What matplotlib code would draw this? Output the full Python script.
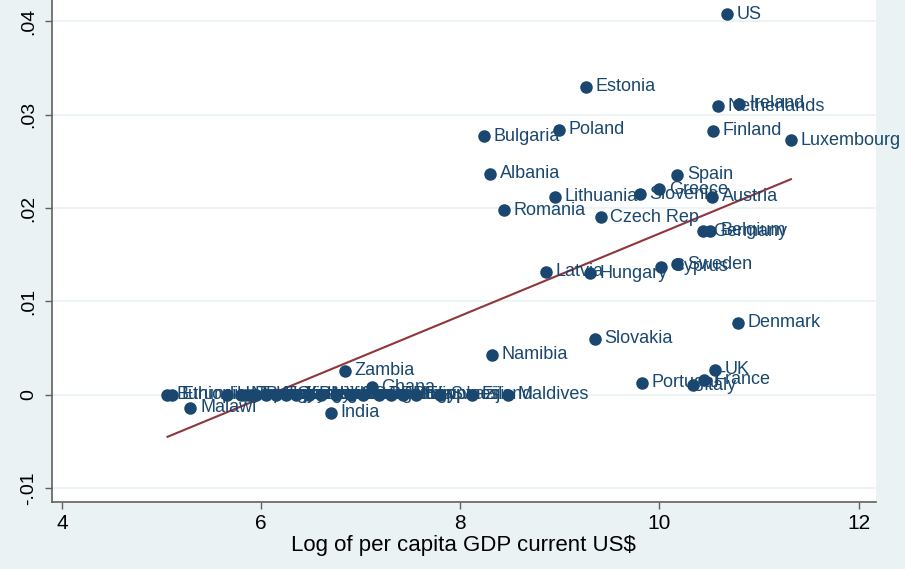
import matplotlib
matplotlib.use("Agg")
import matplotlib.pyplot as plt

# log per capita GDP vs growth
countries = [
    "US", "Estonia", "Ireland", "Netherlands", "Poland", "Finland", "Bulgaria",
    "Luxembourg", "Albania", "Spain", "Greece", "Slovenia", "Lithuania", "Austria",
    "Romania", "Czech Rep", "Germany", "Belgium", "Latvia", "Hungary", "Cyprus",
    "Sweden", "Denmark", "Slovakia", "Namibia", "Zambia", "Ghana", "UK", "France",
    "Portugal", "Italy", "Malawi", "India",
    "Burundi", "Ethiopia", "Uganda", "Nepal", "Rwanda", "Tanzania", "Bangladesh",
    "Kenya", "Tajikistan", "Cambodia", "Kyrgyzstan", "Pakistan", "Nigeria",
    "Vietnam", "Senegal", "Cameroon", "Sudan", "Bolivia", "Philippines", "Egypt",
    "Swaziland", "Fiji", "Maldives",
]
log_gdp = [
    10.68, 9.26, 10.80, 10.59, 8.99, 10.54, 8.24,
    11.32, 8.30, 10.18, 10.00, 9.80, 8.95, 10.53,
    8.44, 9.41, 10.44, 10.51, 8.86, 9.30, 10.02,
    10.18, 10.79, 9.35, 8.32, 6.84, 7.11, 10.56, 10.45,
    9.82, 10.34, 5.29, 6.70,
    5.05, 5.10, 5.66, 5.80, 5.84, 5.88, 5.95,
    6.05, 6.15, 6.25, 6.35, 6.48, 6.60,
    6.75, 6.90, 7.02, 7.18, 7.30, 7.42, 7.55,
    7.80, 8.12, 8.48,
]
growth = [
    0.0408, 0.0330, 0.0312, 0.0309, 0.0284, 0.0283, 0.0277,
    0.0273, 0.0237, 0.0236, 0.0220, 0.0215, 0.0212, 0.0212,
    0.0198, 0.0190, 0.0175, 0.0176, 0.0132, 0.0130, 0.0137,
    0.0140, 0.0077, 0.0060, 0.0043, 0.0026, 0.0008, 0.0027, 0.0016,
    0.0013, 0.0010, -0.0014, -0.0019,
    0.0, 0.0, 0.0, 0.0, 0.0, 0.0, 0.0,
    0.0, 0.0, 0.0, 0.0, 0.0, 0.0,
    0.0, 0.0, 0.0, 0.0, 0.0, 0.0, 0.0,
    0.0, 0.0, 0.0,
]

# fitted line end points
fit_x = [5.06, 11.32]
fit_y = [-0.0045, 0.0231]

x_ticks = [4, 6, 8, 10, 12]
y_ticks = [-0.01, 0.0, 0.01, 0.02, 0.03, 0.04]
y_tick_labels = ["-.01", "0", ".01", ".02", ".03", ".04"]

BG = "#eaf2f3"
NAVY = "#1a476f"
MAROON = "#90353b"
AXIS = "#606060"

plt.rcParams["font.family"] = ["Liberation Sans", "DejaVu Sans"]

fig = plt.figure(figsize=(9.05, 5.69), dpi=100, facecolor=BG)
ax = fig.add_axes([0.0575, 0.118, 0.910, 0.882])
ax.set_facecolor("white")

ax.set_xlim(3.90, 12.17)
ax.set_ylim(-0.01147, 0.0423)

for yt in y_ticks:
    ax.axhline(yt, color=BG, lw=1.2, zorder=0)

ax.plot(log_gdp, growth, "o", color=NAVY, ms=8, mec=NAVY, zorder=3)
for name, xv, yv in zip(countries, log_gdp, growth):
    ax.annotate(name, (xv, yv), xytext=(7, 0), textcoords="offset points",
                va="center", ha="left", fontsize=13, color=NAVY, zorder=4)

ax.plot(fit_x, fit_y, color=MAROON, lw=1.5, zorder=2)

for side in ["top", "right"]:
    ax.spines[side].set_visible(False)
for side in ["left", "bottom"]:
    ax.spines[side].set_color(AXIS)
    ax.spines[side].set_linewidth(1.2)

ax.set_xticks(x_ticks)
ax.set_xticklabels([str(t) for t in x_ticks], fontsize=15)
ax.set_yticks(y_ticks)
ax.set_yticklabels(y_tick_labels, rotation=90, va="center", fontsize=14)
ax.tick_params(axis="both", direction="out", length=5, color=AXIS, width=1)
ax.tick_params(axis="y", pad=6)
ax.set_xlabel("Log of per capita GDP current US$", fontsize=16, labelpad=2)

fig.savefig("out.png", dpi=100, facecolor=BG)
